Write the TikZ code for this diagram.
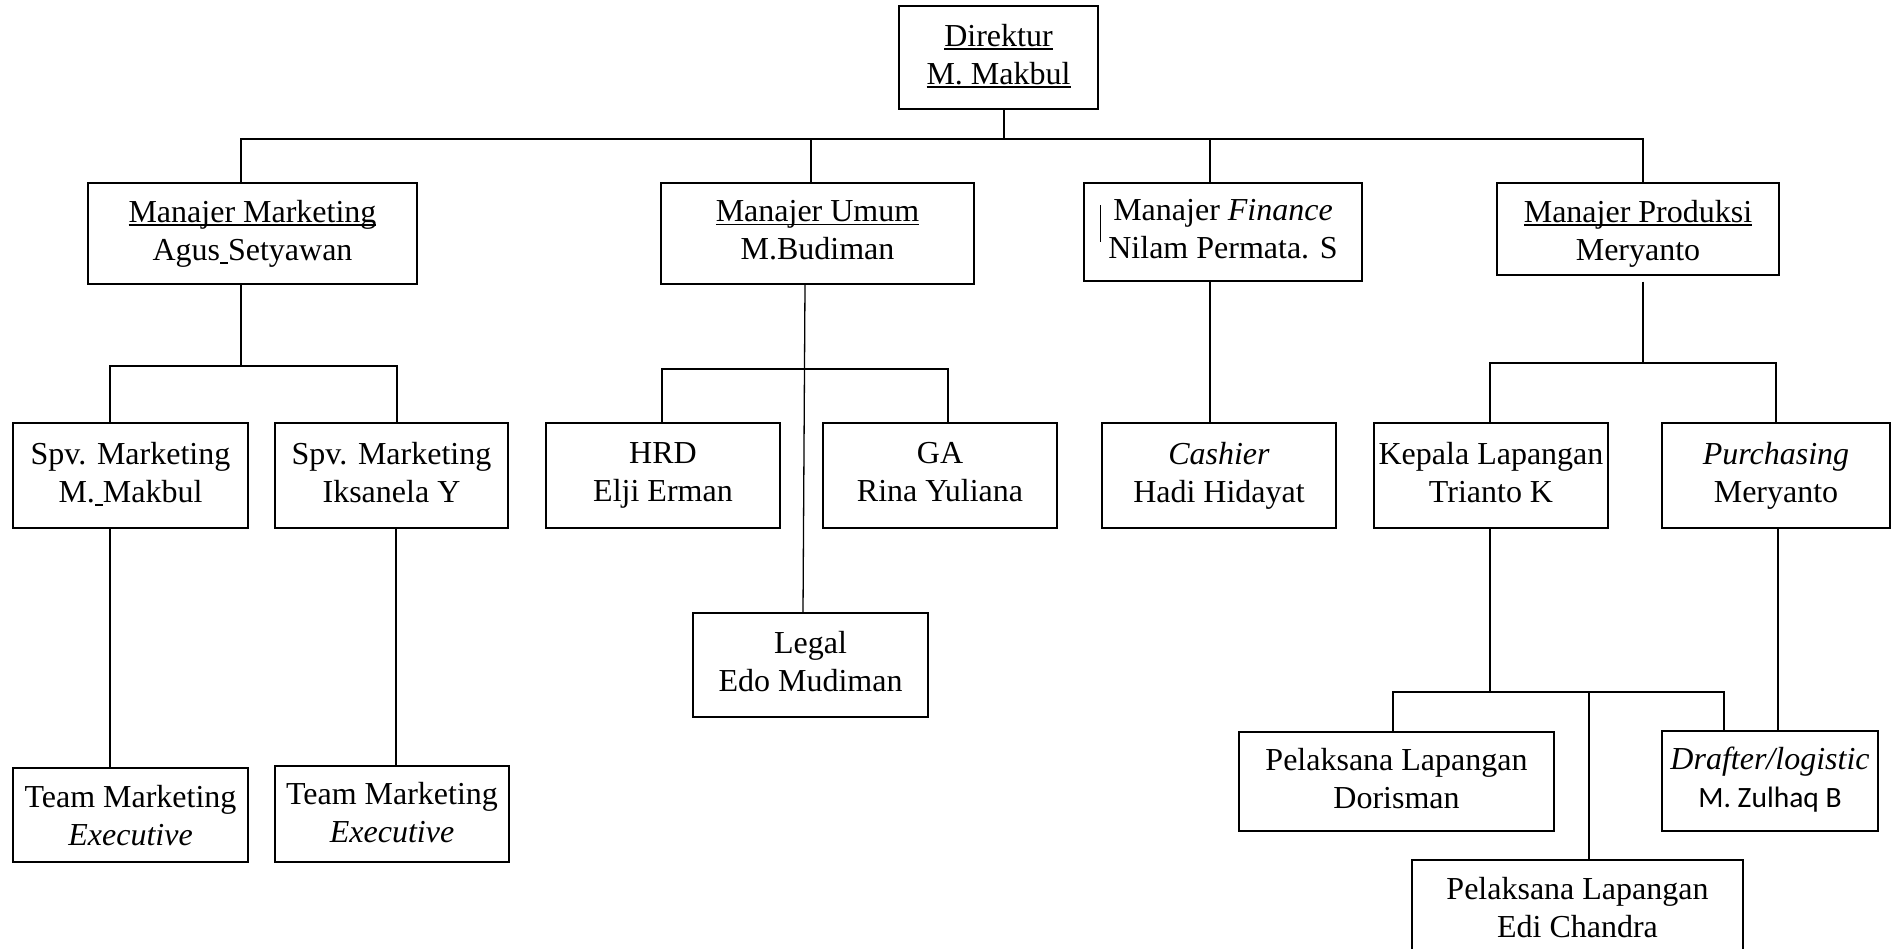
\documentclass[tikz,border=0pt]{standalone}
\usepackage{fontspec}
\setmainfont{Liberation Serif}
\newfontfamily\calibrifont{Carlito}
\newcommand{\myul}[1]{\setbox0\hbox{#1}\rlap{\rule[-3.8pt]{\wd0}{1.6pt}}\box0}
\newcommand{\st}{\rule[-7pt]{0pt}{22pt}}
\newcommand{\sth}[1]{\rule{0pt}{#1}}
\tikzset{
  box/.style={draw, rectangle, line width=1.4pt, inner sep=0pt, align=center,
              font=\fontsize{32}{38}\selectfont},
  link/.style={line width=1.3pt}
}
\begin{document}
\begin{tikzpicture}[x=1pt,y=-1pt]
\useasboundingbox (0,0) rectangle (1892,948);
\clip (0,0) rectangle (1892,948);

% level 0
\node[box, minimum width=199pt, minimum height=103pt] (dir) at (998.5,57.5) {\st\myul{Direktur}\\\st\myul{M. Makbul}};

% level 1
\node[box, minimum width=329pt, minimum height=101pt] (mm) at (252.5,233.5) {\st\myul{Manajer Marketing}\\\st Agus\myul{\ }Setyawan};
\node[box, minimum width=313pt, minimum height=101pt] (mu) at (817.5,233.5) {\st\myul{Manajer Umum}\\\st M.Budiman};
\node[box, minimum width=278pt, minimum height=98pt] (mf) at (1223,232) {\st Manajer \textit{Finance}\\\st Nilam Permata. S};
\node[box, minimum width=282pt, minimum height=92pt] (mp) at (1638,229) {\st\sth{31pt}\myul{Manajer Produksi}\\\st Meryanto};

% level 2
\node[box, minimum width=235pt, minimum height=105pt] (spv1) at (130.5,475.5) {\st Spv. Marketing\\\st M.\myul{\ }Makbul};
\node[box, minimum width=233pt, minimum height=105pt] (spv2) at (391.5,475.5) {\st Spv. Marketing\\\st Iksanela Y};
\node[box, minimum width=234pt, minimum height=105pt] (hrd) at (663,475.5) {\st HRD\\\st Elji Erman};
\node[box, minimum width=234pt, minimum height=105pt] (ga) at (940,475.5) {\st GA\\\st Rina Yuliana};
\node[box, minimum width=234pt, minimum height=105pt] (cash) at (1219,475.5) {\st\textit{Cashier}\\\st Hadi Hidayat};
\node[box, minimum width=234pt, minimum height=105pt] (kep) at (1491,475.5) {\st Kepala Lapangan\\\st Trianto K};
\node[box, minimum width=228pt, minimum height=105pt] (purch) at (1776,475.5) {\st\textit{Purchasing}\\\st Meryanto};

% level 3
\node[box, minimum width=235pt, minimum height=104pt] (legal) at (810.5,665) {\st Legal\\\st Edo Mudiman};
\node[box, minimum width=235pt, minimum height=94pt] (tm1) at (130.5,815) {\st\sth{30pt}Team Marketing\\\st\textit{Executive}};
\node[box, minimum width=234pt, minimum height=96pt] (tm2) at (392,814) {\st\sth{26.5pt}Team Marketing\\\st\textit{Executive}};
\node[box, minimum width=315pt, minimum height=99pt] (dor) at (1396.5,781.5) {\st Pelaksana Lapangan\\\st Dorisman};
\node[box, minimum width=216pt, minimum height=100pt] (draft) at (1770,781) {\st\textit{Drafter/logistic}\\\st{\calibrifont\fontsize{29.5}{38}\selectfont M. Zulhaq B}};
\node[box, minimum width=331pt, minimum height=101pt] (edi) at (1577.5,910.5) {\st Pelaksana Lapangan\\\st Edi Chandra};

% cursor mark in finance box
\draw[line width=0.9pt] ([shift={(17,-27)}]mf.west) -- ([shift={(17,10)}]mf.west);

% bus coordinates
\coordinate (ytop) at (0,139);
\coordinate (ym) at (0,366);
\coordinate (yu) at (0,369);
\coordinate (yp) at (0,363);
\coordinate (yk) at (0,692);

% director to managers
\draw[link] ([xshift=5.5pt]dir.south) -- ([xshift=5.5pt]dir.south |- ytop);
\draw[link] ([xshift=-11.5pt]mm.north) |- ([xshift=5pt]mp.north |- ytop) -- ([xshift=5pt]mp.north);
\draw[link] ([xshift=-6.5pt]mu.north) -- ([xshift=-6.5pt]mu.north |- ytop);
\draw[link] ([xshift=-13pt]mf.north) -- ([xshift=-13pt]mf.north |- ytop);

% marketing
\draw[link] ([xshift=-11.5pt]mm.south) -- ([xshift=-11.5pt]mm.south |- ym);
\draw[link] ([xshift=-20.5pt]spv1.north) |- ([xshift=5.5pt]spv2.north |- ym) -- ([xshift=5.5pt]spv2.north);
\draw[link] ([xshift=-20.5pt]spv1.south) -- ([xshift=-20.5pt]tm1.north);
\draw[link] ([xshift=4.5pt]spv2.south) -- ([xshift=4pt]tm2.north);

% umum
\draw[link] ([xshift=-12.5pt]mu.south) -- ([xshift=-7.5pt]legal.north);
\draw[link] ([xshift=-1pt]hrd.north) |- ([xshift=8pt]ga.north |- yu) -- ([xshift=8pt]ga.north);

% finance
\draw[link] ([xshift=-13pt]mf.south) -- ([xshift=-9pt]cash.north);

% produksi
\draw[link, shorten <=6pt] ([xshift=5pt]mp.south) -- ([xshift=5pt]mp.south |- yp);
\draw[link] ([xshift=-1pt]kep.north) |- (purch.north |- yp) -- (purch.north);

% kepala lapangan
\draw[link] ([xshift=-1pt]kep.south) -- ([xshift=-1pt]kep.south |- yk);
\draw[link] ([xshift=-3.5pt]dor.north) |- ([xshift=-46pt]draft.north |- yk) -- ([xshift=-46pt]draft.north);
\draw[link] ([xshift=11.5pt]edi.north |- yk) -- ([xshift=11.5pt]edi.north);

% purchasing
\draw[link] ([xshift=2pt]purch.south) -- ([xshift=8pt]draft.north);
\end{tikzpicture}
\end{document}
